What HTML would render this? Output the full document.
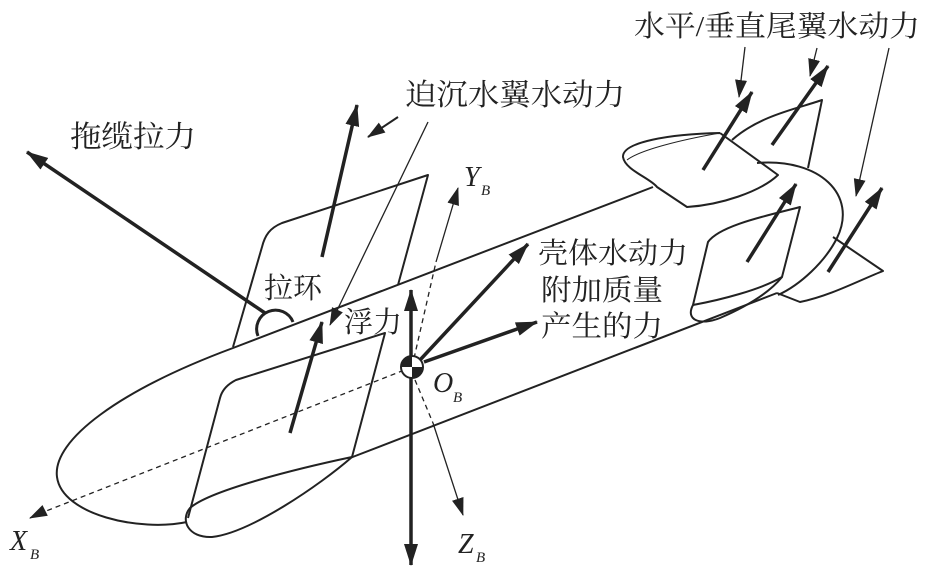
<!DOCTYPE html>
<html><head><meta charset="utf-8"><style>
html,body{margin:0;padding:0;background:#fff;}
svg{display:block;}
.cn{font-family:"Liberation Serif","Noto Serif CJK SC","Noto Sans CJK SC",serif;fill:#222;}
.it{font-family:"Liberation Serif",serif;font-style:italic;fill:#222;}
</style></head><body>
<svg width="934" height="575" viewBox="0 0 934 575" xmlns="http://www.w3.org/2000/svg">
<defs>
<marker id="ah" markerWidth="10" markerHeight="8" refX="9" refY="4" orient="auto" markerUnits="userSpaceOnUse">
<path d="M0,0 L10,4 L0,8 z" fill="#222"/></marker>
<marker id="ahb" markerWidth="22" markerHeight="14" refX="21" refY="7" orient="auto" markerUnits="userSpaceOnUse">
<path d="M0,0 L22,7 L0,14 z" fill="#222"/></marker>
<marker id="ahs" markerWidth="18" markerHeight="12" refX="17" refY="6" orient="auto" markerUnits="userSpaceOnUse">
<path d="M0,0 L18,6 L0,12 z" fill="#222"/></marker>
</defs>
<g fill="none" stroke="#222" stroke-width="2" stroke-linejoin="round">
<!-- upper wing -->
<path d="M233 347 L262 247 C265 235 270 228 282 223 L428 175 L398 285"/>
<!-- hull -->
<path d="M653 187 L233 348 C120 390 52 440 57 477 C62 515 140 532 187 522"/>
<path d="M350 458 L777 293"/>
<!-- lower wing -->
<path d="M188 518 L220 398 C222 390 228 384 236 380 L385 333 L352 457"/>
<path d="M352 457 C300 468 210 490 190 508 C180 520 188 538 212 537 C250 533 320 485 352 457"/>
<!-- pull ring -->
<path d="M258 336 A17 17 0 1 1 293 322" stroke-width="3"/>
<!-- tail ring -->
<path d="M757 163 C820 158 858 195 837 238 C825 262 800 285 778 295"/>
<path d="M777 293 L800 302 C830 296 860 280 883 271 L833 237"/>
<!-- upper vertical fin -->
<path d="M732 140 C760 115 800 108 822 100 L808 168"/>
<!-- horizontal fin -->
<path d="M720 133 C670 134 622 142 623 157 C625 170 650 178 657 187 L687 207 C720 205 760 192 778 175 L720 133"/>
<path d="M720 133 C680 140 640 150 627 160" stroke-width="1"/>
<!-- lower vertical fin -->
<path d="M708 242 C720 225 770 215 800 207 L782 277 C760 290 720 300 693 305 Z"/>
<path d="M693 305 C685 320 700 326 720 318 C750 305 770 292 782 277"/>
</g>
<!-- axes -->
<g stroke="#222" stroke-width="1.3" fill="none">
<line x1="412" y1="367" x2="36" y2="515" stroke-dasharray="5,4"/>
<line x1="36" y1="515" x2="30" y2="518" marker-end="url(#ahs)"/>
<line x1="412" y1="367" x2="436" y2="262" stroke-dasharray="5,4"/>
<line x1="436" y1="262" x2="458" y2="188" marker-end="url(#ahs)"/>
<line x1="415" y1="380" x2="433" y2="423" stroke-dasharray="5,4"/>
<line x1="433" y1="423" x2="463" y2="515" marker-end="url(#ahs)"/>
<line x1="428" y1="122" x2="330" y2="325" marker-end="url(#ahs)"/>
<line x1="745" y1="47" x2="739" y2="97" marker-end="url(#ahs)"/>
<line x1="817" y1="48" x2="810" y2="76" marker-end="url(#ahs)"/>
<line x1="889" y1="48" x2="856" y2="196" marker-end="url(#ahs)"/>
</g>
<g stroke="#222" stroke-width="3.5" fill="none">
<line x1="265" y1="313" x2="27" y2="152" marker-end="url(#ahb)"/>
<line x1="322" y1="257" x2="357" y2="105" marker-end="url(#ahb)"/>
<line x1="398" y1="117" x2="368" y2="137" marker-end="url(#ahs)" stroke-width="2"/>
<line x1="290" y1="433" x2="322" y2="322" marker-end="url(#ahb)"/>
<line x1="411" y1="360" x2="411" y2="290" marker-end="url(#ahb)"/>
<line x1="411" y1="375" x2="411" y2="565" marker-end="url(#ahb)"/>
<line x1="420" y1="360" x2="528" y2="244" marker-end="url(#ahb)"/>
<line x1="424" y1="362" x2="537" y2="322" marker-end="url(#ahb)"/>
<line x1="703" y1="170" x2="752" y2="92" marker-end="url(#ahb)"/>
<line x1="772" y1="145" x2="828" y2="66" marker-end="url(#ahb)"/>
<line x1="747" y1="262" x2="796" y2="184" marker-end="url(#ahb)"/>
<line x1="828" y1="272" x2="882" y2="188" marker-end="url(#ahb)"/>
</g>
<!-- origin -->
<circle cx="412" cy="367" r="11" fill="#fff" stroke="#222" stroke-width="2"/>
<path d="M412 367 L412 356 A11 11 0 0 0 401 367 Z" fill="#222"/>
<path d="M412 367 L412 378 A11 11 0 0 0 423 367 Z" fill="#222"/>
<!-- labels -->
<text class="cn" x="634" y="36" font-size="29" textLength="286" lengthAdjust="spacingAndGlyphs">水平/垂直尾翼水动力</text>
<text class="cn" x="405" y="105" font-size="30" textLength="220" lengthAdjust="spacingAndGlyphs">迫沉水翼水动力</text>
<text class="cn" x="70" y="147" font-size="30" textLength="126" lengthAdjust="spacingAndGlyphs">拖缆拉力</text>
<text class="cn" x="264" y="298" font-size="29">拉环</text>
<text class="cn" x="344" y="332" font-size="29">浮力</text>
<text class="cn" x="538" y="263" font-size="29" textLength="150" lengthAdjust="spacingAndGlyphs">壳体水动力</text>
<text class="cn" x="541" y="300" font-size="29" textLength="122" lengthAdjust="spacingAndGlyphs">附加质量</text>
<text class="cn" x="541" y="336" font-size="29" textLength="122" lengthAdjust="spacingAndGlyphs">产生的力</text>
<text class="it" x="464" y="186" font-size="28">Y</text><text class="it" x="481" y="195" font-size="15">B</text>
<text class="it" x="433" y="392" font-size="28">O</text><text class="it" x="453" y="402" font-size="15">B</text>
<text class="it" x="10" y="550" font-size="28">X</text><text class="it" x="30" y="559" font-size="15">B</text>
<text class="it" x="458" y="553" font-size="28">Z</text><text class="it" x="476" y="562" font-size="15">B</text>
</svg>
</body></html>
